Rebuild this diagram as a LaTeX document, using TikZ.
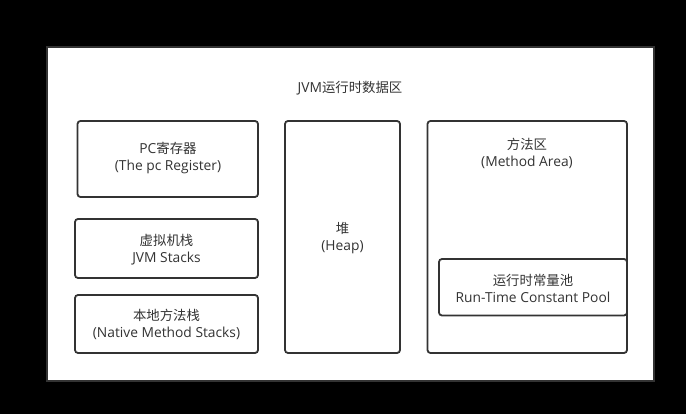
\documentclass[tikz,border=0pt]{standalone}
\usepackage{fontspec}
\setmainfont{Open Sans}
\newfontfamily\cjk{Noto Sans CJK SC}[Scale=0.97]
\begin{document}
\begin{tikzpicture}[x=1pt,y=-1pt,
  box/.style={draw=black!80,line width=1.8pt,rounded corners=3pt,fill=white},
  lbl/.style={text=black!80,font=\fontsize{13.8}{17}\selectfont,align=center,inner sep=0pt}]
\useasboundingbox (0,0) rectangle (686,414);
\fill[black] (0,0) rectangle (686,414);
\draw[fill=white,draw=black!80,line width=1.2pt] (47,47) rectangle (654,381);
\node[lbl] (title) at (350,88) {JVM{\cjk 运行时数据区}};
\draw[box] (77.5,121) rectangle (258,197);
\node[lbl] (pc) at (168,158) {PC{\cjk 寄存器}\\(The pc Register)};
\draw[box] (75,219) rectangle (258,278);
\node[lbl] (jvm) at (166.5,249.5) {{\cjk 虚拟机栈}\\JVM Stacks};
\draw[box] (75,295) rectangle (258,353);
\node[lbl] (nat) at (166.5,324.5) {{\cjk 本地方法栈}\\(Native Method Stacks)};
\draw[box] (285,121) rectangle (400,353);
\node[lbl] (heap) at (342.5,238) {{\cjk 堆}\\(Heap)};
\draw[box] (427.5,121) rectangle (627,353);
\node[lbl] (ma) at (527,153) {{\cjk 方法区}\\(Method Area)};
\draw[box] (439,259) rectangle (627,315.5);
\node[lbl] (pool) at (533,288) {{\cjk 运行时常量池}\\Run-Time Constant Pool};
\end{tikzpicture}
\end{document}
